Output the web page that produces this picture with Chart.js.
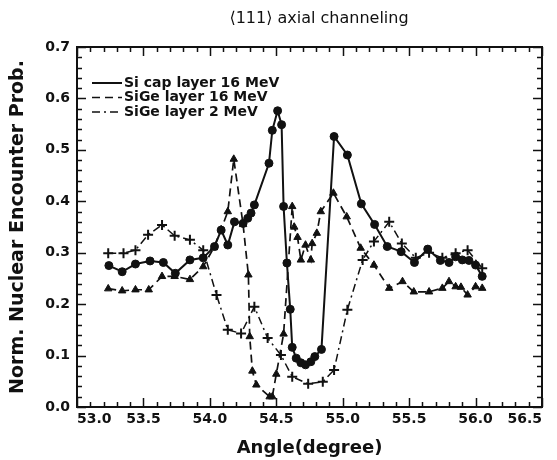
<!DOCTYPE html>
<html>
<head>
<meta charset="utf-8">
<script src="https://cdn.jsdelivr.net/npm/chart.js@4.4.0/dist/chart.umd.min.js"></script>
<style>
  html, body { margin: 0; padding: 0; background: #fff; }
</style>
</head>
<body>
<canvas id="chart" width="557" height="460"></canvas>
<script>
// Si cap layer 16 MeV (solid, circles)
const siCapX = [53.24, 53.34, 53.44, 53.55, 53.65, 53.74, 53.85, 53.95, 54.035, 54.085, 54.135, 54.185,
  54.25, 54.285, 54.31, 54.335, 54.445, 54.47, 54.51, 54.54, 54.555, 54.58, 54.605, 54.62, 54.65,
  54.685, 54.72, 54.76, 54.79, 54.84, 54.935, 55.035, 55.14, 55.24, 55.335, 55.44, 55.54, 55.64,
  55.735, 55.8, 55.85, 55.9, 55.95, 56.0, 56.05];
const siCapY = [0.275, 0.263, 0.278, 0.284, 0.281, 0.26, 0.286, 0.29, 0.312, 0.344, 0.315, 0.36,
  0.357, 0.367, 0.377, 0.393, 0.474, 0.538, 0.576, 0.549, 0.39, 0.28, 0.19, 0.116, 0.095,
  0.086, 0.082, 0.088, 0.098, 0.112, 0.526, 0.49, 0.395, 0.355, 0.312, 0.302, 0.281, 0.307,
  0.285, 0.281, 0.292, 0.286, 0.285, 0.276, 0.254];

// SiGe layer 16 MeV (dashed, triangles)
const sige16X = [53.235, 53.34, 53.44, 53.54, 53.64, 53.735, 53.85, 53.95, 54.03, 54.085, 54.135, 54.18,
  54.25, 54.29, 54.3, 54.32, 54.35, 54.45, 54.47, 54.5, 54.555, 54.62, 54.635, 54.66, 54.685,
  54.72, 54.76, 54.77, 54.805, 54.835, 54.93, 55.03, 55.135, 55.235, 55.35, 55.45, 55.535,
  55.65, 55.75, 55.8, 55.85, 55.89, 55.94, 56.0, 56.05];
const sige16Y = [0.23, 0.226, 0.228, 0.228, 0.254, 0.254, 0.248, 0.273, 0.31, 0.345, 0.38, 0.482,
  0.355, 0.257, 0.137, 0.07, 0.043, 0.02, 0.02, 0.064, 0.142, 0.39, 0.35, 0.33, 0.286,
  0.315, 0.286, 0.318, 0.338, 0.38, 0.416, 0.37, 0.309, 0.276, 0.231, 0.244, 0.224,
  0.224, 0.231, 0.244, 0.234, 0.233, 0.218, 0.234, 0.231];

// SiGe layer 2 MeV (dash-dot, crosses)
const sige2X = [53.235, 53.35, 53.44, 53.535, 53.64, 53.735, 53.85, 53.95, 54.05, 54.135, 54.235,
  54.335, 54.435, 54.535, 54.62, 54.74, 54.85, 54.935, 55.035, 55.15, 55.235, 55.35, 55.445,
  55.55, 55.65, 55.75, 55.85, 55.94, 56.05];
const sige2Y = [0.299, 0.299, 0.305, 0.335, 0.354, 0.333, 0.325, 0.305, 0.218, 0.15, 0.143,
  0.195, 0.134, 0.101, 0.059, 0.045, 0.049, 0.072, 0.189, 0.286, 0.322, 0.36, 0.318,
  0.29, 0.30, 0.29, 0.299, 0.305, 0.27];

const xTicks = [53.0, 53.5, 54.0, 54.5, 55.0, 55.5, 56.0, 56.5];
const yTicks = [0.0, 0.1, 0.2, 0.3, 0.4, 0.5, 0.6, 0.7];
const seriesNames = ['Si cap layer 16 MeV', 'SiGe layer 16 MeV', 'SiGe layer 2 MeV'];

const toPoints = (xs, ys) => xs.map((x, i) => ({ x: x, y: ys[i] }));

const ink = '#111';
const FONT = 'DejaVu Sans';

// frame with inward ticks, custom title and inset legend
const framePlugin = {
  id: 'frame',
  afterDraw(chart) {
    const { ctx, chartArea: a, scales } = chart;
    const xs = scales.x, ys = scales.y;
    ctx.save();
    ctx.strokeStyle = ink;
    ctx.lineWidth = 2;
    ctx.strokeRect(a.left, a.top, a.right - a.left, a.bottom - a.top);

    ctx.lineWidth = 1.5;
    ctx.beginPath();
    for (let i = 0; i <= 35; i++) {
      const v = 53 + i * 0.1;
      const px = Math.round(xs.getPixelForValue(v)) + 0.5;
      const len = i % 5 === 0 ? 9 : 5;
      ctx.moveTo(px, a.bottom); ctx.lineTo(px, a.bottom - len);
      ctx.moveTo(px, a.top); ctx.lineTo(px, a.top + len);
    }
    for (let i = 0; i <= 35; i++) {
      const v = i * 0.02;
      const py = Math.round(ys.getPixelForValue(v)) + 0.5;
      const len = i % 5 === 0 ? 9 : 5;
      ctx.moveTo(a.left, py); ctx.lineTo(a.left + len, py);
      ctx.moveTo(a.right, py); ctx.lineTo(a.right - len, py);
    }
    ctx.stroke();

    // title
    ctx.fillStyle = ink;
    ctx.font = '16px "' + FONT + '"';
    ctx.textAlign = 'center';
    ctx.textBaseline = 'middle';
    ctx.fillText('\u27E8111\u27E9 axial channeling', 319, 19);

    // legend
    ctx.font = 'bold 14px "' + FONT + '"';
    ctx.textAlign = 'left';
    chart.data.datasets.forEach((ds, i) => {
      const y = 83 + i * 14.5;
      ctx.beginPath();
      ctx.setLineDash(ds.borderDash || []);
      ctx.lineWidth = ds.borderWidth;
      ctx.moveTo(92, y); ctx.lineTo(122, y);
      ctx.stroke();
      ctx.setLineDash([]);
      ctx.fillText(ds.label, 124, y);
    });
    ctx.restore();
  }
};

new Chart(document.getElementById('chart'), {
  type: 'line',
  data: {
    datasets: [
      {
        label: seriesNames[0],
        data: toPoints(siCapX, siCapY),
        borderColor: ink,
        backgroundColor: ink,
        borderWidth: 2,
        pointStyle: 'circle',
        pointRadius: 4,
        pointBorderWidth: 1,
        tension: 0
      },
      {
        label: seriesNames[1],
        data: toPoints(sige16X, sige16Y),
        borderColor: ink,
        backgroundColor: ink,
        borderWidth: 1.7,
        borderDash: [8, 5],
        pointStyle: 'triangle',
        pointRadius: 4.3,
        pointBorderWidth: 1,
        tension: 0
      },
      {
        label: seriesNames[2],
        data: toPoints(sige2X, sige2Y),
        borderColor: ink,
        backgroundColor: ink,
        borderWidth: 1.5,
        borderDash: [8, 4, 2, 4],
        pointStyle: 'cross',
        pointRadius: 5,
        pointBorderWidth: 2,
        tension: 0
      }
    ]
  },
  options: {
    responsive: false,
    animation: false,
    layout: {
      padding: { top: 47, right: 15, left: 0, bottom: 0 }
    },
    plugins: {
      legend: { display: false },
      tooltip: { enabled: false },
      title: { display: false }
    },
    scales: {
      x: {
        type: 'linear',
        min: 53,
        max: 56.5,
        afterFit: (s) => { s.height = 53; s.paddingLeft = 0; s.paddingRight = 0; },
        afterBuildTicks: (s) => { s.ticks = xTicks.map(v => ({ value: v })); },
        grid: { display: false, drawTicks: false },
        border: { display: false },
        ticks: {
          padding: 4,
          align: 'inner',
          color: ink,
          font: { family: FONT, size: 14, weight: 'bold' },
          maxRotation: 0,
          callback: (v) => v.toFixed(1)
        },
        title: {
          display: true,
          text: 'Angle(degree)',
          color: ink,
          font: { family: FONT, size: 18, weight: 'bold' },
          padding: { top: 0, bottom: 1 }
        }
      },
      y: {
        min: 0,
        max: 0.7,
        afterFit: (s) => { s.width = 77; },
        afterBuildTicks: (s) => { s.ticks = yTicks.map(v => ({ value: v })); },
        grid: { display: false, drawTicks: false },
        border: { display: false },
        ticks: {
          padding: 7,
          color: ink,
          font: { family: FONT, size: 14, weight: 'bold' },
          callback: (v) => v.toFixed(1)
        },
        title: {
          display: true,
          text: 'Norm. Nuclear Encounter Prob.',
          color: ink,
          font: { family: FONT, size: 19, weight: 'bold' },
          padding: { top: 7, bottom: 0 }
        }
      }
    }
  },
  plugins: [framePlugin]
});
</script>
</body>
</html>
